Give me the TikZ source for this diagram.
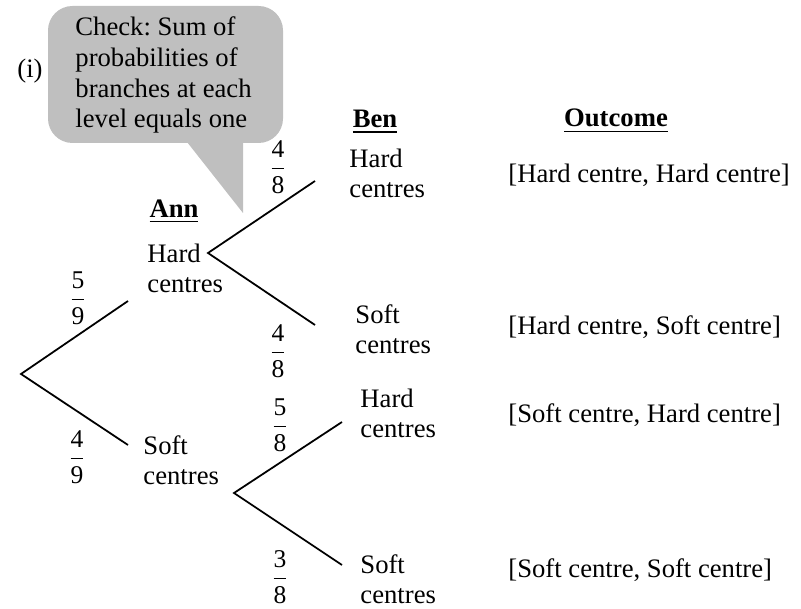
\documentclass[tikz,border=0pt]{standalone}
\usepackage{amsmath}
\usepackage{fontspec}
\setmainfont{Liberation Serif}
\frenchspacing
\definecolor{calloutgray}{RGB}{191,191,191}
\newcommand{\prb}[2]{$\dfrac{\text{#1}}{\text{#2}}$}

\begin{document}
\begin{tikzpicture}[x=0.45pt,y=-0.45pt,
    txt/.style={anchor=base west,inner sep=0pt,align=left,font=\fontsize{12}{13.8}\selectfont},
    head/.style={anchor=base,inner sep=0pt,font=\fontsize{12}{13.8}\selectfont\bfseries},
    prob/.style={inner sep=0pt,font=\fontsize{11.5}{13}\selectfont},
    branch/.style={line width=0.8pt}]

    \useasboundingbox (0,0) rectangle (801,609);

    % Callout (base anchor = last line)
    \fill[calloutgray,rounded corners=11pt] (48,6) rectangle (283,143);
    \fill[calloutgray] (187,142) -- (243,213) -- (243,142) -- cycle;
    \node[txt] (check) at (75,128) {Check: Sum of\\probabilities of\\branches at each\\level equals one};
    \node[txt] (part) at (17,78) {(i)};

    % Headings
    \node[head] (ann) at (174,218) {\underline{Ann}};
    \node[head] (ben) at (375,128) {\underline{Ben}};
    \node[head] (outcome) at (616,127) {\underline{Outcome}};

    % Branch points
    \coordinate (root) at (21,374);
    \coordinate (annH) at (128,301);
    \coordinate (annS) at (128,445);
    \coordinate (forkH) at (208,253);
    \coordinate (benHH) at (315,181);
    \coordinate (benHS) at (315,325);
    \coordinate (forkS) at (234,493);
    \coordinate (benSH) at (342,422);
    \coordinate (benSS) at (342,565);

    % Branches
    \draw[branch] (annH) -- (root) -- (annS);
    \draw[branch] (benHH) -- (forkH) -- (benHS);
    \draw[branch] (benSH) -- (forkS) -- (benSS);

    % Leaves
    \node[txt] (hard1) at (147,293) {Hard\\centres};
    \node[txt] (soft1) at (143,485) {Soft\\centres};
    \node[txt] (hardhard) at (349,198) {Hard\\centres};
    \node[txt] (hardsoft) at (355,354) {Soft\\centres};
    \node[txt] (softhard) at (360,438) {Hard\\centres};
    \node[txt] (softsoft) at (360,604) {Soft\\centres};

    % Probabilities
    \node[prob] (p1) at (78,298) {\prb{5}{9}};
    \node[prob] (p2) at (77,457) {\prb{4}{9}};
    \node[prob] (p3) at (278,167) {\prb{4}{8}};
    \node[prob] (p4) at (278,351) {\prb{4}{8}};
    \node[prob] (p5) at (280,425) {\prb{5}{8}};
    \node[prob] (p6) at (280,577) {\prb{3}{8}};

    % Outcomes
    \node[txt] (o1) at (508,183) {[Hard centre, Hard centre]};
    \node[txt] (o2) at (508,335) {[Hard centre, Soft centre]};
    \node[txt] (o3) at (508,423) {[Soft centre, Hard centre]};
    \node[txt] (o4) at (508,577) {[Soft centre, Soft centre]};

\end{tikzpicture}
\end{document}
